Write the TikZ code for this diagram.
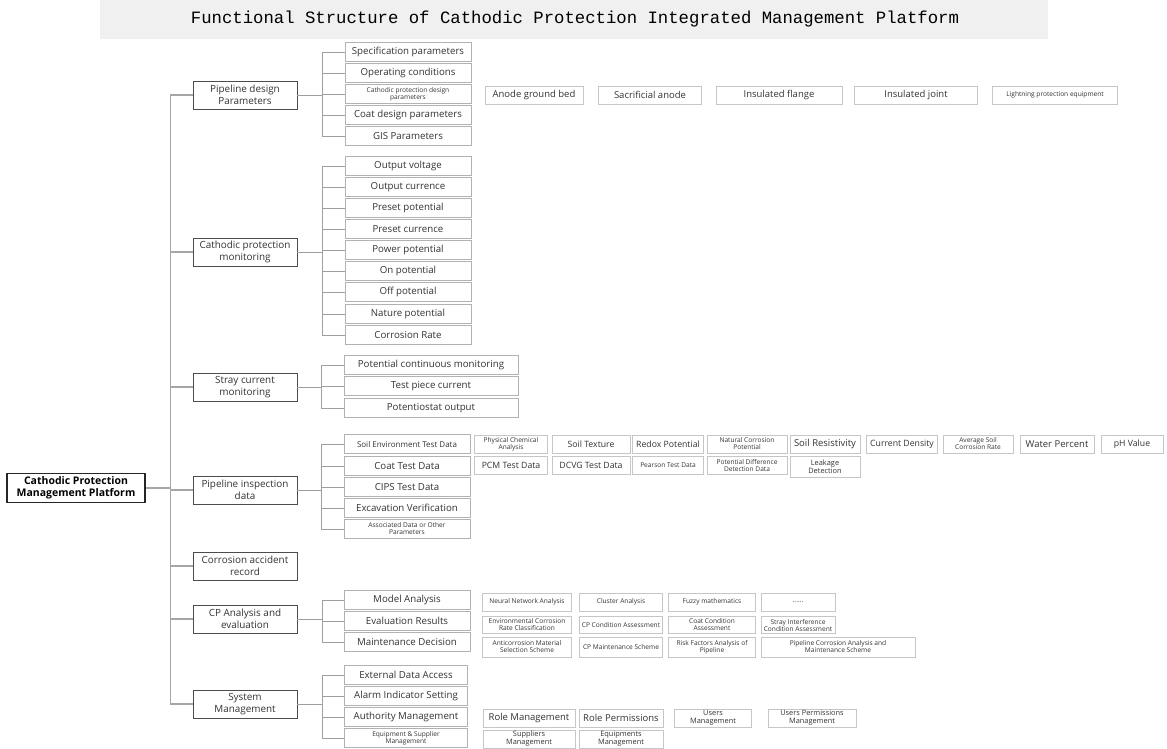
\documentclass[tikz,border=0pt]{standalone}
\usepackage{fontspec}
\setmainfont{Open Sans}
\setmonofont{Liberation Mono}
\usetikzlibrary{calc}

\begin{document}
\begin{tikzpicture}[x=1pt,y=-1pt,
    every node/.style={inner sep=0.5pt, align=center, text=black!80, font=\fontsize{9.7}{11}\selectfont},
    rootbox/.style={draw=black!85, line width=1.1pt, minimum width=138pt, minimum height=29pt, text=black, font=\fontsize{10.5}{12}\selectfont\bfseries},
    catbox/.style={draw=black!70, line width=0.7pt, minimum width=104pt, minimum height=28pt, font=\fontsize{9.9}{11.5}\selectfont},
    itembox/.style={draw=gray!60, line width=0.5pt, minimum width=126pt, minimum height=19pt},
    leafbox/.style={draw=gray!45, line width=0.5pt, minimum height=18pt, font=\fontsize{9.5}{10.5}\selectfont},
    midsize/.style={font=\fontsize{8.7}{9.5}\selectfont},
    smallish/.style={font=\fontsize{7.4}{8}\selectfont},
    tiny/.style={font=\fontsize{6.6}{7}\selectfont},
    link/.style={draw=gray!75, line width=0.6pt},
    trunk/.style={draw=gray!70, line width=1.3pt}]
    \useasboundingbox (0,0) rectangle (1167,748);

    % Title band
    \fill[gray!12] (100,0) rectangle (1048,39);
    \node[text=black, font=\ttfamily\fontsize{17.3}{19}\selectfont] (title) at (575,19) {Functional Structure of Cathodic Protection Integrated Management Platform};

    % Root and first level
    \node[rootbox] (root) at (76,488) {Cathodic Protection\\Management Platform};
    \node[catbox] (pd)  at (245,95)  {Pipeline design\\Parameters};
    \node[catbox] (cpm) at (245,252) {Cathodic protection\\monitoring};
    \node[catbox] (scm) at (245,387) {Stray current\\monitoring};
    \node[catbox] (pid) at (245,490) {Pipeline inspection\\data};
    \node[catbox] (car) at (245,566) {Corrosion accident\\record};
    \node[catbox] (cpa) at (245,619) {CP Analysis and\\evaluation};
    \node[catbox] (sm)  at (245,704) {System\\Management};

    % Pipeline design parameters
    \node[itembox] (pd1) at (408,52)  {Specification parameters};
    \node[itembox] (pd2) at (408,73)  {Operating conditions};
    \node[itembox,tiny] (pd3) at (408,94) {Cathodic protection design\\parameters};
    \node[itembox] (pd4) at (408,115) {Coat design parameters};
    \node[itembox] (pd5) at (408,136) {GIS Parameters};
    \node[leafbox,minimum width=98pt]  (pda) at (534,95)  {Anode ground bed};
    \node[leafbox,minimum width=103pt] (pdb) at (650,95)  {Sacrificial anode};
    \node[leafbox,minimum width=126pt] (pdc) at (779,95)  {Insulated flange};
    \node[leafbox,minimum width=123pt] (pdd) at (916,95)  {Insulated joint};
    \node[leafbox,minimum width=125pt,tiny] (pde) at (1055,95) {Lightning protection equipment};

    % Cathodic protection monitoring
    \node[itembox] (cp1) at (408,166) {Output voltage};
    \node[itembox] (cp2) at (408,187) {Output currence};
    \node[itembox] (cp3) at (408,208) {Preset potential};
    \node[itembox] (cp4) at (408,229) {Preset currence};
    \node[itembox] (cp5) at (408,250) {Power potential};
    \node[itembox] (cp6) at (408,271) {On potential};
    \node[itembox] (cp7) at (408,292) {Off potential};
    \node[itembox] (cp8) at (408,314) {Nature potential};
    \node[itembox] (cp9) at (408,335) {Corrosion Rate};

    % Stray current monitoring
    \node[itembox,minimum width=174pt] (sc1) at (431,365) {Potential continuous monitoring};
    \node[itembox,minimum width=174pt] (sc2) at (431,386) {Test piece current};
    \node[itembox,minimum width=174pt] (sc3) at (431,408) {Potentiostat output};

    % Pipeline inspection data
    \node[itembox,font=\fontsize{8}{9}\selectfont] (pi1) at (407,444) {Soil Environment Test Data};
    \node[itembox] (pi2) at (407,466) {Coat Test Data};
    \node[itembox] (pi3) at (407,487) {CIPS Test Data};
    \node[itembox] (pi4) at (407,508) {Excavation Verification};
    \node[itembox,tiny] (pi5) at (407,529) {Associated Data or Other\\Parameters};
    \node[leafbox,minimum width=73pt,tiny]    (s1) at (511,444)  {Physical Chemical\\Analysis};
    \node[leafbox,minimum width=78pt,midsize] (s2) at (591,444)  {Soil Texture};
    \node[leafbox,minimum width=71pt,midsize] (s3) at (668,444)  {Redox Potential};
    \node[leafbox,minimum width=80pt,tiny]    (s4) at (747,444)  {Natural Corrosion\\Potential};
    \node[leafbox,minimum width=70pt]         (s5) at (825,444)  {Soil Resistivity};
    \node[leafbox,minimum width=71pt,midsize] (s6) at (902,444)  {Current Density};
    \node[leafbox,minimum width=70pt,tiny]    (s7) at (978,444)  {Average Soil\\Corrosion Rate};
    \node[leafbox,minimum width=74pt]         (s8) at (1057,444) {Water Percent};
    \node[leafbox,minimum width=62pt,midsize] (s9) at (1132,444) {pH Value};
    \node[leafbox,minimum width=73pt,midsize] (c1) at (511,465)  {PCM Test Data};
    \node[leafbox,minimum width=78pt,midsize] (c2) at (591,465)  {DCVG Test Data};
    \node[leafbox,minimum width=71pt,tiny]    (c3) at (668,465)  {Pearson Test Data};
    \node[leafbox,minimum width=80pt,tiny]    (c4) at (747,465)  {Potential Difference\\Detection Data};
    \node[leafbox,minimum width=70pt,minimum height=21pt,smallish] (c5) at (825,467) {Leakage\\Detection};

    % CP analysis and evaluation
    \node[itembox] (ca1) at (407,600) {Model Analysis};
    \node[itembox] (ca2) at (407,621) {Evaluation Results};
    \node[itembox] (ca3) at (407,642) {Maintenance Decision};
    \node[leafbox,minimum width=89pt,tiny] (m1) at (527,602) {Neural Network Analysis};
    \node[leafbox,minimum width=83pt,tiny] (m2) at (621,602) {Cluster Analysis};
    \node[leafbox,minimum width=87pt,tiny] (m3) at (712,602) {Fuzzy mathematics};
    \node[leafbox,minimum width=74pt,tiny] (m4) at (798,602) {......};
    \node[leafbox,minimum width=89pt,minimum height=17pt,tiny] (e1) at (527,625) {Environmental Corrosion\\Rate Classification};
    \node[leafbox,minimum width=83pt,minimum height=17pt,tiny] (e2) at (621,625) {CP Condition Assessment};
    \node[leafbox,minimum width=87pt,minimum height=17pt,tiny] (e3) at (712,625) {Coat Condition\\Assessment};
    \node[leafbox,minimum width=74pt,minimum height=17pt,tiny] (e4) at (798,625) {Stray Interference\\Condition Assessment};
    \node[leafbox,minimum width=89pt,minimum height=20pt,tiny] (d1) at (527,647) {Anticorrosion Material\\Selection Scheme};
    \node[leafbox,minimum width=83pt,minimum height=20pt,tiny] (d2) at (621,647) {CP Maintenance Scheme};
    \node[leafbox,minimum width=87pt,minimum height=20pt,tiny] (d3) at (712,647) {Risk Factors Analysis of\\Pipeline};
    \node[leafbox,minimum width=154pt,minimum height=20pt,tiny] (d4) at (838,647) {Pipeline Corrosion Analysis and\\Maintenance Scheme};

    % System management
    \node[itembox,minimum width=123pt] (sm1) at (406,675) {External Data Access};
    \node[itembox,minimum width=123pt] (sm2) at (406,696) {Alarm Indicator Setting};
    \node[itembox,minimum width=123pt] (sm3) at (406,717) {Authority Management};
    \node[itembox,minimum width=123pt,tiny] (sm4) at (406,738) {Equipment \& Supplier\\Management};
    \node[leafbox,minimum width=92pt] (r1) at (529,718) {Role Management};
    \node[leafbox,minimum width=84pt] (r2) at (621,718) {Role Permissions};
    \node[leafbox,minimum width=77pt,smallish] (r3) at (713,718) {Users\\Management};
    \node[leafbox,minimum width=88pt,smallish] (r4) at (812,718) {Users Permissions\\Management};
    \node[leafbox,minimum width=92pt,smallish] (q1) at (529,739) {Suppliers\\Management};
    \node[leafbox,minimum width=84pt,smallish] (q2) at (621,739) {Equipments\\Management};

    % Trunk from the root
    \draw[trunk] (root.east) -- ++(25,0) |- (pd.west)
                 (root.east) -- ++(25,0) |- (cpm.west)
                 (root.east) -- ++(25,0) |- (scm.west)
                 (root.east) -- ++(25,0) |- (pid.west)
                 (root.east) -- ++(25,0) |- (car.west)
                 (root.east) -- ++(25,0) |- (cpa.west)
                 (root.east) -- ++(25,0) |- (sm.west);

    % Brackets
    \draw[link] (pd.east) -- ++(25,0) |- (pd1.west) (pd.east) -- ++(25,0) |- (pd2.west)
                (pd.east) -- ++(25,0) |- (pd3.west) (pd.east) -- ++(25,0) |- (pd4.west)
                (pd.east) -- ++(25,0) |- (pd5.west);
    \draw[link] (cpm.east) -- ++(25,0) |- (cp1.west) (cpm.east) -- ++(25,0) |- (cp2.west)
                (cpm.east) -- ++(25,0) |- (cp3.west) (cpm.east) -- ++(25,0) |- (cp4.west)
                (cpm.east) -- ++(25,0) |- (cp5.west) (cpm.east) -- ++(25,0) |- (cp6.west)
                (cpm.east) -- ++(25,0) |- (cp7.west) (cpm.east) -- ++(25,0) |- (cp8.west)
                (cpm.east) -- ++(25,0) |- (cp9.west);
    \draw[link] (scm.east) -- ++(24,0) |- (sc1.west) (scm.east) -- ++(24,0) |- (sc2.west)
                (scm.east) -- ++(24,0) |- (sc3.west);
    \draw[link] (pid.east) -- ++(24,0) |- (pi1.west) (pid.east) -- ++(24,0) |- (pi2.west)
                (pid.east) -- ++(24,0) |- (pi3.west) (pid.east) -- ++(24,0) |- (pi4.west)
                (pid.east) -- ++(24,0) |- (pi5.west);
    \draw[link] (cpa.east) -- ++(25,0) |- (ca1.west) (cpa.east) -- ++(25,0) |- (ca2.west)
                (cpa.east) -- ++(25,0) |- (ca3.west);
    \draw[link] (sm.east) -- ++(25,0) |- (sm1.west) (sm.east) -- ++(25,0) |- (sm2.west)
                (sm.east) -- ++(25,0) |- (sm3.west) (sm.east) -- ++(25,0) |- (sm4.west);
\end{tikzpicture}
\end{document}
